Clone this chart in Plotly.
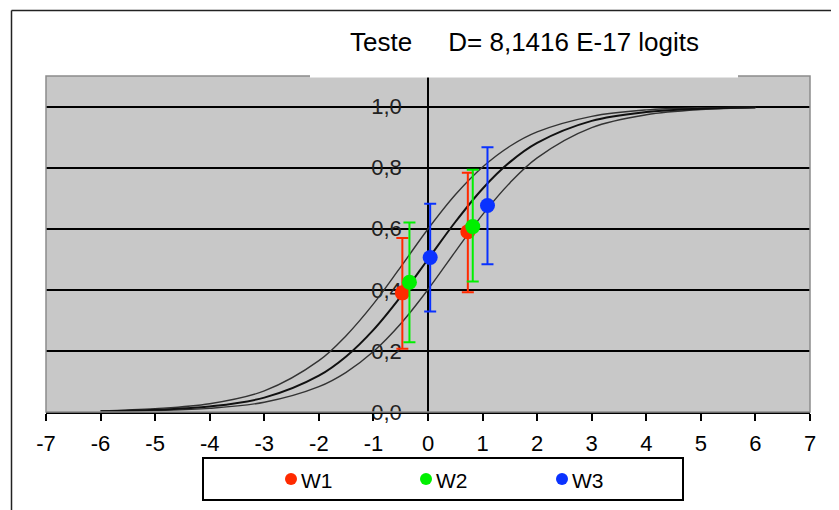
import plotly.graph_objects as go

# ---------------- data ----------------
theta = [-6, -5, -4, -3, -2, -1.5, -1, -0.5, 0, 0.5, 1, 1.5, 2, 3, 4, 5, 6]
icc_mid = [0.002, 0.007, 0.018, 0.047, 0.119, 0.182, 0.269, 0.378, 0.500, 0.622, 0.731, 0.818, 0.881, 0.953, 0.982, 0.993, 0.998]
icc_upper = [0.004, 0.011, 0.027, 0.069, 0.168, 0.250, 0.354, 0.475, 0.599, 0.711, 0.802, 0.870, 0.917, 0.968, 0.989, 0.996, 0.998]
icc_lower = [0.002, 0.005, 0.012, 0.032, 0.083, 0.130, 0.198, 0.289, 0.401, 0.525, 0.646, 0.750, 0.832, 0.931, 0.973, 0.990, 0.996]

series_names = ["W1", "W2", "W3"]
series_colors = ["#ff2a00", "#00f000", "#0a32ff"]
w_x = [[-0.47, 0.73], [-0.34, 0.82], [0.04, 1.09]]
w_y = [[0.390, 0.590], [0.425, 0.607], [0.506, 0.676]]
w_err_plus = [[0.180, 0.193], [0.195, 0.186], [0.176, 0.191]]
w_err_minus = [[0.183, 0.198], [0.197, 0.180], [0.177, 0.192]]

x_ticks = list(range(-7, 8))
x_tick_labels = [str(v) for v in x_ticks]
y_ticks = [0.0, 0.2, 0.4, 0.6, 0.8, 1.0]
title_text = "Teste\u00a0\u00a0\u00a0\u00a0\u00a0D= 8,1416 E-17 logits"

# ---------------- layout geometry (screen pixels; page has 8px body margin) ----------------
OFF = 8
W, H = 839 - OFF, 510 - OFF
L, R, T, B = 46 - OFF, 810 - OFF, 76 - OFF, 412 - OFF


def px(x):
    return (x - OFF - L) / (R - L)


def py(y):
    return (B - (y - OFF)) / (B - T)


FONT = "Liberation Sans, Arial, sans-serif"

fig = go.Figure()

# ICC curves
for ys, wdt, col in [(icc_upper, 1.4, "#333333"), (icc_lower, 1.4, "#333333"), (icc_mid, 2.0, "#111111")]:
    fig.add_trace(go.Scatter(x=theta, y=ys, mode="lines",
                             line=dict(color=col, width=wdt, shape="spline", smoothing=1.0),
                             showlegend=False, hoverinfo="skip"))

# points with error bars
for name, col, xs, ys, ep, em in zip(series_names, series_colors, w_x, w_y, w_err_plus, w_err_minus):
    fig.add_trace(go.Scatter(
        x=xs, y=ys, mode="markers", name=name,
        marker=dict(color=col, size=15, line=dict(width=0)),
        error_y=dict(type="data", symmetric=False, array=ep, arrayminus=em,
                     color=col, thickness=2, width=6),
        showlegend=False))

shapes = []
# plot area border (gray)
shapes.append(dict(type="rect", xref="paper", yref="paper", x0=0, x1=1, y0=0, y1=1,
                   line=dict(color="#8c8c8c", width=1.5), layer="above"))
# white title box covering top edge
shapes.append(dict(type="rect", xref="paper", yref="paper", x0=px(310), x1=px(738),
                   y0=py(77.5), y1=py(14), fillcolor="white", line=dict(width=0), layer="above"))
# outer chart border (left and top)
shapes.append(dict(type="line", xref="paper", yref="paper", x0=px(11.5), x1=px(11.5),
                   y0=py(10.5), y1=py(515), line=dict(color="#222222", width=1.5)))
shapes.append(dict(type="line", xref="paper", yref="paper", x0=px(11.5), x1=px(845),
                   y0=py(10.5), y1=py(10.5), line=dict(color="#222222", width=1.5)))
# legend box
shapes.append(dict(type="rect", xref="paper", yref="paper", x0=px(203), x1=px(683),
                   y0=py(500), y1=py(458), fillcolor="white", line=dict(color="black", width=2)))

annotations = [dict(text=title_text, xref="paper", yref="paper", x=px(524.5), y=py(42),
                    showarrow=False, xanchor="center", yanchor="middle",
                    font=dict(family=FONT, size=26, color="black"))]

leg_x = [291, 426, 562]
for name, col, lx in zip(series_names, series_colors, leg_x):
    shapes.append(dict(type="circle", xref="paper", yref="paper", xsizemode="pixel", ysizemode="pixel",
                       xanchor=px(lx), yanchor=py(479), x0=-6, x1=6, y0=-6, y1=6,
                       fillcolor=col, line=dict(width=0)))
    annotations.append(dict(text=name, xref="paper", yref="paper", x=px(lx + 8), y=py(480),
                            showarrow=False, xanchor="left", yanchor="middle",
                            font=dict(family=FONT, size=21, color="black")))

fig.update_layout(
    width=W, height=H,
    margin=dict(l=L, r=W - R, t=T, b=H - B, pad=0),
    paper_bgcolor="white", plot_bgcolor="#c8c8c8",
    separators=",.",
    showlegend=False,
    shapes=shapes, annotations=annotations,
    xaxis=dict(range=[-7, 7], tickvals=x_ticks, ticktext=x_tick_labels,
               showgrid=False, zeroline=False,
               showline=True, linecolor="black", linewidth=1.5,
               ticks="outside", ticklen=7, tickwidth=1.5, tickcolor="black",
               ticklabelstandoff=4,
               tickfont=dict(family=FONT, size=22, color="black")),
    yaxis=dict(range=[0, 1.1], tickvals=y_ticks, tickformat=".1f",
               anchor="free", position=0.5, layer="below traces",
               showline=True, linecolor="black", linewidth=1.5,
               showgrid=True, gridcolor="black", gridwidth=1.5,
               zeroline=False, ticks="", ticklabelstandoff=21,
               tickfont=dict(family=FONT, size=22, color="#222222")),
)

fig.write_html("out.html")
